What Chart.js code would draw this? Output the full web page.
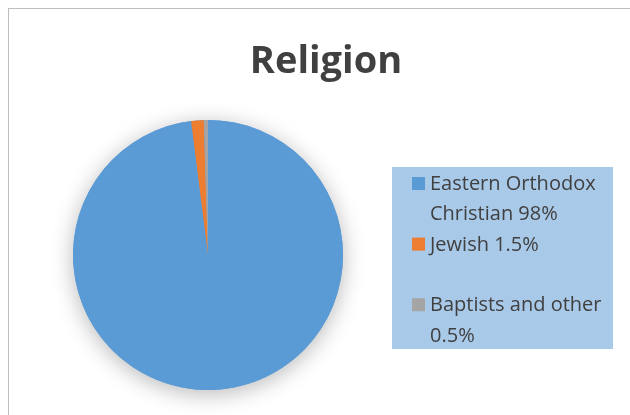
<!DOCTYPE html>
<html><head><meta charset="utf-8">
<script src="https://cdn.jsdelivr.net/npm/chart.js@4/dist/chart.umd.min.js"></script>
<style>
html,body{margin:0;padding:0;background:#fff;overflow:hidden;width:630px;height:415px}
#frame{position:absolute;left:8px;top:8px;width:640px;height:420px;border-left:1px solid #bdbdbd;border-top:1px solid #bdbdbd}
#wrap{position:absolute;left:0;top:0;width:630px;height:415px}
</style></head><body>
<div id="frame"></div>
<div id="wrap"><canvas id="c" width="630" height="415"></canvas></div>
<script>
const titleText = 'Religion';
const categories = ['Eastern Orthodox Christian 98%', 'Jewish 1.5%', 'Baptists and other 0.5%'];
const legendLines = [['Eastern Orthodox', 'Christian 98%'], ['Jewish 1.5%', ''], ['Baptists and other', '0.5%']];
const values = [98, 1.5, 0.5];
const colors = ['#5b9bd5', '#ed7d31', '#a5a5a5'];

const shadowPlugin = {
  id: 'pieShadow',
  beforeDatasetsDraw(chart) {
    const arc = chart.getDatasetMeta(0).data[0];
    if (!arc) return;
    const ctx = chart.ctx;
    ctx.save();
    ctx.shadowColor = 'rgba(0,0,0,0.28)';
    ctx.shadowBlur = 22;
    ctx.shadowOffsetY = 4;
    ctx.fillStyle = '#5b9bd5';
    ctx.beginPath();
    ctx.arc(arc.x, arc.y, arc.outerRadius, 0, Math.PI * 2);
    ctx.fill();
    ctx.restore();
  }
};

const decorPlugin = {
  id: 'decor',
  afterDraw(chart) {
    const ctx = chart.ctx;
    ctx.save();
    // title
    ctx.fillStyle = '#404040';
    ctx.font = 'bold 38px "Open Sans"';
    ctx.textAlign = 'center';
    ctx.textBaseline = 'alphabetic';
    ctx.fillText(titleText, 326, 73);
    // legend box
    ctx.fillStyle = '#a9c9e8';
    ctx.fillRect(392, 167, 221, 182);
    ctx.font = '20px "Open Sans"';
    ctx.textAlign = 'left';
    const colorsDs = chart.data.datasets[0].backgroundColor;
    let baseline = 190;
    legendLines.forEach((lines, i) => {
      ctx.fillStyle = colorsDs[i];
      ctx.fillRect(412, baseline - 13, 13, 13);
      ctx.fillStyle = '#404040';
      lines.forEach((ln, j) => {
        ctx.fillText(ln, 430, baseline + j * 30.3);
      });
      baseline += lines.length * 30.3;
    });
    ctx.restore();
  }
};

new Chart(document.getElementById('c'), {
  type: 'pie',
  data: {
    labels: categories,
    datasets: [{
      data: values,
      backgroundColor: colors,
      borderWidth: 0,
      hoverOffset: 0
    }]
  },
  options: {
    responsive: false,
    animation: false,
    layout: { padding: { left: 73, right: 287, top: 120, bottom: 25 } },
    plugins: {
      legend: { display: false },
      title: { display: false },
      tooltip: { enabled: false }
    }
  },
  plugins: [shadowPlugin, decorPlugin]
});
</script>
</body></html>
